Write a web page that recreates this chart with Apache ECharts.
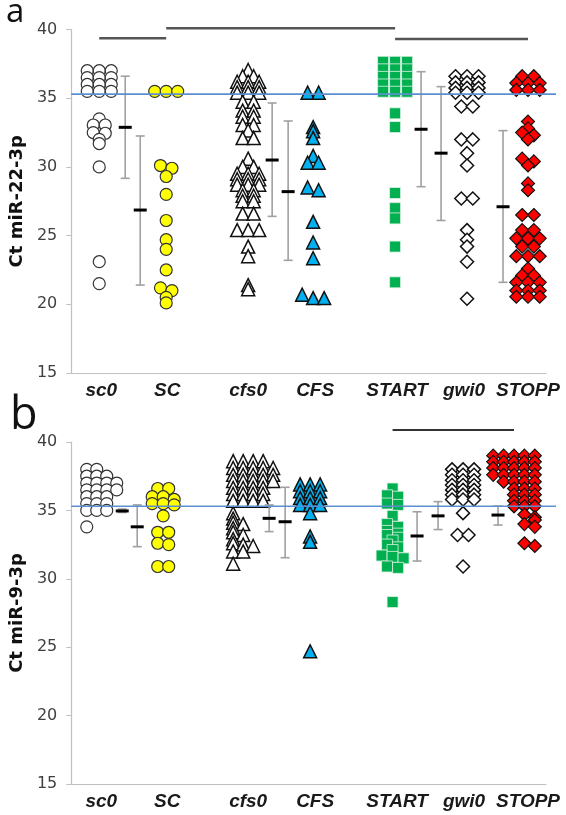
<!DOCTYPE html>
<html><head><meta charset="utf-8">
<script src="https://cdn.jsdelivr.net/npm/echarts@6/dist/echarts.min.js"></script>
<style>html,body{margin:0;padding:0;background:#fff}#c{width:566px;height:815px}</style>
</head><body><div id="c"></div>
<script>
// ---------- categories / ticks ----------
const groups = ['sc0','SC','cfs0','CFS','START','gwi0','STOPP'];
const yTicks = [15,20,25,30,35,40];
const refLine = 35.3;

// ---------- panel a : Ct miR-22-3p ----------
const a_sc0 = [37.0,37.0,37.0,36.5,36.5,36.5,36.0,36.0,36.0,35.5,35.5,35.5,33.5,33.05,33.05,32.5,32.45,32.0,31.7,30.0,23.1,21.5];
const a_SC = [35.5,35.5,35.5,30.1,29.9,29.3,28.0,26.1,24.7,24.0,22.5,21.2,21.0,20.5,20.1];
const a_cfs0 = [37.05,36.6,36.6,36.2,36.2,36.2,35.8,35.8,35.8,35.4,35.4,35.4,34.75,34.75,34.1,34.1,33.65,33.65,33.05,33.05,32.65,32.1,32.1,
  30.6,30.0,30.0,29.5,29.5,29.5,29.1,29.1,29.1,28.7,28.7,28.7,28.3,28.3,27.9,27.9,27.5,27.5,26.6,26.6,25.4,25.4,25.4,24.2,23.5,21.4,21.1];
const a_CFS = [35.4,35.4,32.9,32.6,32.1,30.8,30.3,30.3,28.5,28.3,26.0,24.5,23.35,20.7,20.45,20.45];
const a_START = [37.65,37.65,37.65,37.1,37.1,37.1,36.55,36.55,36.55,36.0,36.0,36.0,35.47,35.47,35.47,33.9,32.9,28.1,27.0,26.25,24.2,21.6];
const a_gwi0 = [36.6,36.6,36.6,36.15,36.15,36.15,35.75,35.75,35.75,35.4,35.4,35.4,34.4,34.4,32.0,32.0,31.0,30.1,27.7,27.7,25.4,24.7,24.2,23.1,20.4];
const a_STOPP = [36.6,36.6,36.1,36.1,36.1,35.6,35.6,35.6,33.3,32.8,32.5,32.3,32.0,30.6,30.4,30.1,28.8,28.3,26.5,26.5,25.4,25.4,24.8,24.8,24.8,
  24.2,24.2,23.5,23.5,23.5,22.6,22.1,22.1,21.6,21.6,21.6,21.0,21.0,21.0,20.55,20.55,20.55];
const a_mean  = [32.88,26.86,30.5,28.2,32.74,31.0,27.1];
const a_lower = [29.17,21.4,26.4,23.2,28.56,26.1,21.6];
const a_upper = [36.6,32.25,34.65,33.34,36.93,35.84,32.64];
const a_sig = [[0,1,39.36],[1,4,40.09],[4,6,39.31]]; // [from group, to group, level]

// ---------- panel b : Ct miR-9-3p ----------
const b_sc0 = [38.0,38.0,37.5,37.5,37.5,37.0,37.0,37.0,37.0,36.5,36.5,36.5,36.5,36.0,36.0,36.0,35.5,35.5,35.5,35.0,35.0,35.0,33.8];
const b_SC = [36.6,36.6,36.0,36.0,35.8,35.5,35.5,35.4,34.6,33.4,33.4,32.6,32.5,30.9,30.9];
const b_cfs0 = [38.6,38.6,38.6,38.6,38.1,38.1,38.1,38.1,38.1,37.6,37.6,37.6,37.6,37.6,37.15,37.15,37.15,37.15,37.15,36.65,36.65,36.65,36.65,
  36.2,36.2,36.2,36.2,35.7,35.7,35.7,35.7,34.8,34.4,34.1,34.0,33.7,33.4,33.2,32.9,32.6,32.5,32.4,32.0,32.0,31.1];
const b_CFS = [36.9,36.9,36.9,36.4,36.4,36.4,35.9,35.9,35.9,35.4,35.4,35.4,34.8,33.1,32.7,24.7];
const b_START = [36.6,36.1,36.0,35.5,35.4,34.6,34.0,33.8,33.5,33.3,33.2,33.0,32.8,32.5,32.3,32.1,31.7,31.6,31.5,30.9,30.8,28.3];
const b_gwi0 = [38.0,38.0,38.0,37.6,37.6,37.6,37.2,37.2,37.2,36.85,36.85,36.85,36.5,36.5,36.5,36.15,36.15,36.15,35.8,35.8,35.8,34.8,33.2,33.2,30.9];
const b_STOPP = [39.0,39.0,39.0,39.0,39.0,38.55,38.55,38.55,38.55,38.55,38.1,38.1,38.1,38.1,38.1,37.6,37.6,37.6,37.6,37.6,37.1,37.1,37.1,37.1,
  36.6,36.6,36.6,36.15,36.15,36.15,35.7,35.7,35.7,35.3,35.3,35.3,34.7,34.5,34.3,34.0,33.8,32.6,32.4];
const b_mean  = [34.96,33.8,34.42,34.17,33.13,34.6,34.66];
const b_lower = [34.85,32.35,33.45,31.54,31.3,33.6,33.93];
const b_upper = [35.1,35.4,35.4,36.69,34.9,35.64,35.32];
const b_sig = [[4,6,40.88]];

// ---------- layout (positions on a hidden 0..475 x scale) ----------
const labelPos = [30,96,177,244,326,393,457];
const layoutA = {center:[28,95,177,242,324,396,457], err:[54,69,201,217,350,370,432],
  spacing:[12,11.5,11,11,12,11.5,11.7], maxCols:[3,3,3,3,3,3,3],
  align:['c','c','c','c','c','c','c']};
const layoutB = {center:[30.5,92,182,239,321.5,392,443], err:[51,66,198,214,346,367,427],
  spacing:[10,11,10,10,11,11,10.4], maxCols:[4,3,5,3,3,3,5],
  align:['l','c','l','c','c','c','r']};
const styles = [
  {symbol:'circle', size:12, color:'#ffffff', border:'#333333', bw:1.2},
  {symbol:'circle', size:12, color:'#ffff00', border:'#333333', bw:1.2},
  {symbol:'triangle', size:13, color:'#ffffff', border:'#111111', bw:1.5},
  {symbol:'triangle', size:13, color:'#00b0f0', border:'#111111', bw:1.5},
  {symbol:'rect', size:11, color:'#00b050', border:'#dff2e6', bw:0.8},
  {symbol:'diamond', size:13, color:'#ffffff', border:'#111111', bw:1.5},
  {symbol:'diamond', size:13, color:'#ff0000', border:'#111111', bw:1.2}
];

// row-based dot-plot layout (values close together share a row)
function swarm(values, center, spacing, maxCols, align, thresh) {
  const sorted = values.slice().sort((a,b)=>b-a);
  const rows = []; let cur = null;
  for (const v of sorted) {
    if (cur && cur[0] - v <= thresh && cur.length < maxCols) cur.push(v);
    else { cur = [v]; rows.push(cur); }
  }
  const out = [];
  const half = (maxCols-1)/2;
  rows.forEach(r => r.forEach((v,i) => {
    let k;
    if (align === 'l') k = i - half;
    else if (align === 'r') k = half - (r.length-1-i);
    else k = i - (r.length-1)/2;
    out.push([center + k*spacing, v]);
  }));
  return out;
}

const panelA = [a_sc0,a_SC,a_cfs0,a_CFS,a_START,a_gwi0,a_STOPP];
const panelB = [b_sc0,b_SC,b_cfs0,b_CFS,b_START,b_gwi0,b_STOPP];

function buildSeries(idx, vals, layout, mean, lower, upper, sig, sigStyle) {
  const s = [];
  vals.forEach((v,g) => {
    const st = styles[g];
    s.push({type:'scatter', xAxisIndex:idx, yAxisIndex:idx, symbol:st.symbol, symbolSize:st.size,
      itemStyle:{color:st.color, borderColor:st.border, borderWidth:st.bw, opacity:1},
      data: swarm(v, layout.center[g], layout.spacing[g], layout.maxCols[g], layout.align[g], 0.25), z:3, silent:true});
  });
  s.push({type:'custom', xAxisIndex:idx, yAxisIndex:idx, z:4, silent:true,
    data: groups.map((g,i)=>[layout.err[i], mean[i], lower[i], upper[i]]),
    encode:{x:0,y:1},
    renderItem(params, api) {
      const x = api.value(0);
      const pm = api.coord([x, api.value(1)]), pl = api.coord([x, api.value(2)]), ph = api.coord([x, api.value(3)]);
      const gs = {stroke:'#a0a0a0', lineWidth:1.6};
      return {type:'group', children:[
        {type:'line', shape:{x1:ph[0],y1:ph[1],x2:pl[0],y2:pl[1]}, style:gs},
        {type:'line', shape:{x1:ph[0]-4.5,y1:ph[1],x2:ph[0]+4.5,y2:ph[1]}, style:gs},
        {type:'line', shape:{x1:pl[0]-4.5,y1:pl[1],x2:pl[0]+4.5,y2:pl[1]}, style:gs},
        {type:'line', shape:{x1:pm[0]-6.5,y1:pm[1],x2:pm[0]+6.5,y2:pm[1]}, style:{stroke:'#000', lineWidth:3}}
      ]};
    }});
  s.push({type:'custom', xAxisIndex:idx, yAxisIndex:idx, z:5, silent:true,
    data: sig.map(d=>[layout.center[d[0]], layout.center[d[1]], d[2]]),
    renderItem(params, api) {
      const p1 = api.coord([api.value(0), api.value(2)]), p2 = api.coord([api.value(1), api.value(2)]);
      return {type:'line', shape:{x1:p1[0],y1:p1[1],x2:p2[0],y2:p2[1]}, style:sigStyle};
    }});
  s.push({type:'custom', xAxisIndex:idx, yAxisIndex:idx, z:6, silent:true,
    data: [[0, 485, refLine]],
    renderItem(params, api) {
      const p1 = api.coord([api.value(0), api.value(2)]), p2 = api.coord([api.value(1), api.value(2)]);
      return {type:'line', shape:{x1:p1[0],y1:p1[1],x2:p2[0],y2:p2[1]}, style:{stroke:'#5b8fd2', lineWidth:1.6}};
    }});
  return s;
}

function xAxis(idx) {
  return {type:'value', gridIndex:idx, min:0, max:475,
    axisLine:{show:true, lineStyle:{color:'#c0c0c0', width:1.2}}, axisTick:{show:false}, splitLine:{show:false},
    axisLabel:{customValues:labelPos, margin:8, formatter:v=>groups[labelPos.indexOf(v)] || '',
      fontFamily:'Liberation Sans', fontWeight:'bold', fontStyle:'italic', fontSize:19, color:'#1a1a1a'}};
}
function yAxis(idx, name) {
  return {type:'value', gridIndex:idx, min:yTicks[0], max:yTicks[yTicks.length-1], interval:5,
    name:name, nameLocation:'middle', nameGap:44,
    nameTextStyle:{fontFamily:'DejaVu Sans', fontWeight:'bold', fontSize:18, color:'#111'},
    axisLine:{show:true, lineStyle:{color:'#c0c0c0', width:1.2}},
    axisTick:{show:true, length:5, lineStyle:{color:'#c0c0c0'}}, splitLine:{show:false},
    axisLabel:{margin:14, fontFamily:'DejaVu Sans', fontSize:16, color:'#404040'}};
}

const chart = echarts.init(document.getElementById('c'), null, {renderer:'canvas'});
chart.setOption({
  animation:false,
  backgroundColor:'#fff',
  grid:[{left:71, top:29.5, width:475, height:343.5}, {left:71, top:442, width:475, height:342}],
  xAxis:[xAxis(0), xAxis(1)],
  yAxis:[yAxis(0,'Ct miR-22-3p'), yAxis(1,'Ct miR-9-3p')],
  graphic:[
    {type:'text', left:6, top:-4, style:{text:'a', font:'33px "Open Sans"', fill:'#111'}},
    {type:'text', left:10, top:394, style:{text:'b', font:'45px "Open Sans"', fill:'#111'}}
  ],
  series:[].concat(
    buildSeries(0, panelA, layoutA, a_mean, a_lower, a_upper, a_sig, {stroke:'#555', lineWidth:2.6}),
    buildSeries(1, panelB, layoutB, b_mean, b_lower, b_upper, b_sig, {stroke:'#333', lineWidth:2}))
});
</script></body></html>
